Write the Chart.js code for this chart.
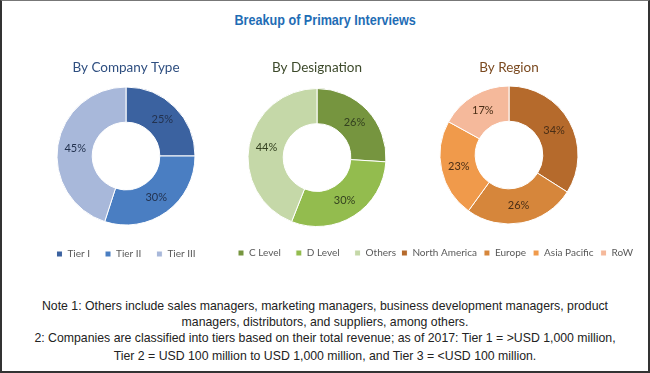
<!DOCTYPE html>
<html>
<head>
<meta charset="utf-8">
<script src="https://cdn.jsdelivr.net/npm/chart.js@4.4.0/dist/chart.umd.min.js"></script>
<style>
  html, body { margin: 0; padding: 0; background: #fff; }
  #frame {
    position: relative; width: 650px; height: 373px; box-sizing: border-box;
    border: 2px solid #333; border-top: 1px solid #777; background: #fff; overflow: hidden;
  }
  #head {
    position: absolute; left: 0; width: 646px; top: 11px; text-align: center;
    font: bold 14px "Liberation Sans Narrow", "Liberation Sans", Arial, sans-serif; color: #1f6db5;
    transform: scaleX(0.9); transform-origin: 325px 0;
  }
  canvas { position: absolute; }
  #notes {
    position: absolute; left: 0; width: 646px; top: 297px; text-align: center;
    font: 13.5px "Liberation Sans", Arial, sans-serif; color: #222;
    line-height: 16px; white-space: nowrap;
    transform: scaleX(0.91); transform-origin: 323px 0;
  }
</style>
</head>
<body>
<div id="frame">
  <div id="head">Breakup of Primary Interviews</div>
  <canvas id="c1" width="200" height="219" style="left:24px;top:49px"></canvas>
  <canvas id="c2" width="200" height="218" style="left:215px;top:49px"></canvas>
  <canvas id="c3" width="262" height="218" style="left:376px;top:49px"></canvas>
  <div id="notes">
    Note 1: Others include sales managers, marketing managers, business development managers, product<br>
    managers, distributors, and suppliers, among others.<br>
    2: Companies are classified into tiers based on their total revenue; as of 2017: Tier 1 = &gt;USD 1,000 million,<br>
    <span style="display:inline-block;margin-top:2px">Tier 2 = USD 100 million to USD 1,000 million, and Tier 3 = &lt;USD 100 million.</span>
  </div>
</div>
<script>
document.addEventListener("DOMContentLoaded", function () {

    // company type
    let companyLabels = ["Tier I", "Tier II", "Tier III"];
    let companyValues = [25, 30, 45];
    // designation
    let designationLabels = ["C Level", "D Level", "Others"];
    let designationValues = [26, 30, 44];
    // region
    let regionLabels = ["North America", "Europe", "Asia Pacific", "RoW"];
    let regionValues = [34, 26, 23, 17];

    let baseFont = "Lato, 'Open Sans', sans-serif";

    // percent text in the middle of each ring slice
    let sliceText = {
        id: "sliceText",
        afterDatasetsDraw(chart, args, opts) {
            let ctx = chart.ctx;
            let ds = chart.data.datasets[0];
            ctx.save();
            ctx.font = "11px " + baseFont;
            ctx.fillStyle = opts.color;
            ctx.textAlign = "center";
            ctx.textBaseline = "middle";
            chart.getDatasetMeta(0).data.forEach(function (arc, i) {
                let p = arc.getCenterPoint();
                ctx.fillText(ds.data[i] + "%", p.x, p.y);
            });
            ctx.restore();
        }
    };

    function donut(id, title, titleColor, labels, values, colors, textColor, titleGap, legendGap, legendAlign) {
        return new Chart(document.getElementById(id).getContext("2d"), {
            type: "doughnut",
            data: {
                labels: labels,
                datasets: [{
                    data: values,
                    backgroundColor: colors,
                    borderColor: "#ffffff",
                    borderWidth: 1,
                    radius: 69,
                    cutout: "49%"
                }]
            },
            options: {
                responsive: false,
                animation: false,
                plugins: {
                    title: {
                        display: true,
                        text: title,
                        color: titleColor,
                        font: { family: baseFont, size: 13.5, weight: "normal" },
                        padding: { top: 10, bottom: titleGap }
                    },
                    legend: {
                        position: "bottom",
                        align: legendAlign,
                        labels: {
                            boxWidth: 6,
                            boxHeight: 6,
                            padding: legendGap,
                            color: "#595959",
                            font: { family: baseFont, size: 10 }
                        }
                    },
                    tooltip: { enabled: false },
                    sliceText: { color: textColor }
                }
            },
            plugins: [sliceText]
        });
    }

    donut("c1", "By Company Type", "#2f4f80", companyLabels, companyValues,
        ["#3b62a0", "#4a7ec2", "#a8b8da"], "#23324f", 1.8, 15, "center");
    donut("c2", "By Designation", "#3d4a2b", designationLabels, designationValues,
        ["#76953f", "#93bc4e", "#c5d8a8"], "#33401f", 5.8, 15, "center");
    donut("c3", "By Region", "#7b4a20", regionLabels, regionValues,
        ["#b56a2c", "#d6863b", "#f09a4b", "#f5b99b"], "#4a2e16", -7.2, 7, "end");

});
</script>
</body>
</html>
